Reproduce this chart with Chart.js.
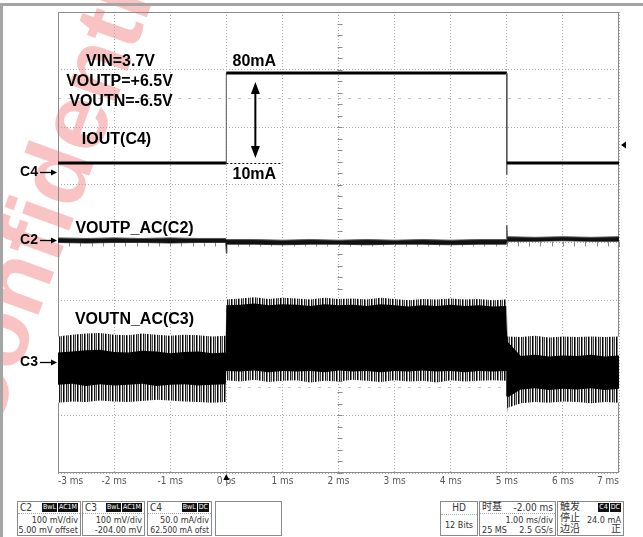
<!DOCTYPE html>
<html>
<head>
<meta charset="utf-8">
<script src="https://cdn.jsdelivr.net/npm/chart.js@4.4.1/dist/chart.umd.min.js"></script>
<style>
  body { margin: 0; background: #fff; width: 643px; height: 537px; overflow: hidden; position: relative;
         font-family: "Liberation Sans Narrow", "DejaVu Sans Condensed", sans-serif; }
  #scope { position: absolute; left: 0; top: 0; }
  .bar-top { position: absolute; left: 0; top: 3px; width: 643px; height: 3px; background: #a5a5a5; }
  .bar-left { position: absolute; left: 0; top: 3px; width: 3px; height: 534px; background: #a5a5a5; }
  .box { position: absolute; top: 501px; height: 35px; border: 1px solid #8a8a8a; box-sizing: border-box;
         font-size: 9px; line-height: 10px; color: #333; background: #fff; white-space: nowrap; }
  .box .l { position: absolute; left: 2px; }
  .box .r { position: absolute; right: 2px; }
  .hdr { position: absolute; left: 0; right: 0; top: 0; height: 11px; border-bottom: 1px dotted #aaa; font-size: 10px; line-height: 11px; }
  .tag { display: inline-block; background: #111; color: #fff; font-size: 7px; line-height: 9px; padding: 0 1px; margin-left: 1px; vertical-align: top; margin-top: 1px; }
  .cjk { font-family: "Noto Sans CJK SC", sans-serif; font-size: 10px; }
</style>
</head>
<body>
<canvas id="scope" width="643" height="495"></canvas>
<div class="bar-top"></div>
<div class="bar-left"></div>

<div class="box" style="left:17px;width:64px">
  <div class="hdr"><span class="l">C2</span><span class="r"><span class="tag">BwL</span><span class="tag">AC1M</span></span></div>
  <span class="r" style="top:13px">100 mV/div</span>
  <span class="r" style="top:23px">5.00 mV offset</span>
</div>
<div class="box" style="left:82px;width:63px">
  <div class="hdr"><span class="l">C3</span><span class="r"><span class="tag">BwL</span><span class="tag">AC1M</span></span></div>
  <span class="r" style="top:13px">100 mV/div</span>
  <span class="r" style="top:23px">-204.00 mV</span>
</div>
<div class="box" style="left:147px;width:65px">
  <div class="hdr"><span class="l">C4</span><span class="r"><span class="tag">BwL</span><span class="tag">DC</span></span></div>
  <span class="r" style="top:13px">50.0 mA/div</span>
  <span class="r" style="top:23px;font-size:8.5px">62.500 mA ofst</span>
</div>
<div class="box" style="left:215px;width:67px"></div>

<div class="box" style="left:440px;width:38px">
  <div style="position:absolute;left:0;right:0;top:1px;text-align:center;font-size:10px">HD</div>
  <div style="position:absolute;left:0;right:0;top:12px;border-top:1px dotted #7fcf7f"></div>
  <div style="position:absolute;left:0;right:0;top:18px;text-align:center">12 Bits</div>
</div>
<div class="box" style="left:479px;width:77px">
  <div class="hdr"><span class="l cjk" style="top:-2px">时基</span><span class="r">-2.00 ms</span></div>
  <span class="r" style="top:13px">1.00 ms/div</span>
  <span class="l" style="top:23px">25 MS</span>
  <span class="r" style="top:23px">2.5 GS/s</span>
</div>
<div class="box" style="left:557px;width:67px">
  <div class="hdr" style="border-bottom:none"><span class="l cjk" style="top:-2px">触发</span><span class="r"><span class="tag">C4</span><span class="tag">DC</span></span></div>
  <span class="l cjk" style="top:10px">停止</span>
  <span class="r" style="top:13px">24.0 mA</span>
  <span class="l cjk" style="top:21px">边沿</span>
  <span class="r cjk" style="top:21px">正</span>
</div>

<script>
// IOUT on C4 (mA): load step 10 mA -> 80 mA at 0 ms, back at 5 ms
const c4Time = [-3, 0, 0, 5, 5, 5, 7];
const c4Current = [10, 10, 80, 80, 1, 10, 10];

// VOUTP ripple on C2 (mV), upper / lower envelope
const c2Time = [-3, -2.5, -2, -1.5, -1, -0.5, -0.01, 0, 0.01, 0.5, 1, 1.5, 2, 2.5, 3, 3.5, 4, 4.5, 4.99, 5, 5.01, 5.5, 6, 6.5, 7];
const c2High = [4, 3, 4, 3, 4, 3, 3, 1, 1, 1, 0, 1, 0, 1, 0, 1, 0, 1, 1, 26, 6, 5, 6, 5, 6];
const c2Low = [-4, -5, -4, -4, -5, -4, -4, -23, -7, -7, -8, -7, -7, -8, -7, -7, -8, -7, -7, -3, -2, -2, -1, -2, -2];

// VOUTN ripple on C3 (mV): peak envelope and dense core
const c3Time = [-3, -2.75, -2.5, -2.25, -2, -1.75, -1.5, -1.25, -1, -0.75, -0.5, -0.25, -0.01,
  0, 0.25, 0.5, 0.75, 1, 1.25, 1.5, 1.75, 2, 2.25, 2.5, 2.75, 3, 3.25, 3.5, 3.75, 4, 4.25, 4.5, 4.75, 4.99,
  5, 5.01, 5.25, 5.5, 5.75, 6, 6.25, 6.5, 6.75, 7];
const c3PeakHigh = [44, 47, 49, 50, 47, 46, 49, 47, 45, 47, 46, 44, 45,
  108, 110, 112, 109, 111, 110, 108, 111, 109, 110, 108, 111, 109, 107, 109, 108, 110, 108, 109, 107, 108,
  112, 44, 43, 45, 42, 44, 43, 44, 43, 44];
const c3CoreHigh = [16, 18, 20, 21, 17, 16, 19, 18, 15, 17, 18, 15, 16,
  98, 99, 101, 98, 100, 99, 97, 100, 98, 99, 97, 100, 98, 96, 98, 97, 99, 97, 98, 96, 97,
  60, 35, 10, 12, 9, 11, 10, 12, 9, 11];
const c3CoreLow = [-40, -38, -42, -39, -41, -40, -38, -42, -40, -39, -41, -40, -39,
  -16, -17, -15, -18, -16, -17, -16, -18, -15, -17, -16, -18, -16, -17, -15, -17, -16, -18, -16, -17, -16,
  -60, -62, -48, -46, -49, -47, -48, -46, -49, -47];
const c3PeakLow = [-71, -69, -70, -67, -69, -70, -68, -66, -67, -69, -70, -71, -70,
  -32, -34, -31, -35, -33, -32, -36, -33, -34, -31, -33, -35, -32, -34, -33, -36, -32, -34, -33, -32, -33,
  -97, -80, -72, -70, -71, -69, -70, -72, -70, -71];

// x tick labels
const timeTicks = [-3, -2, -1, 0, 1, 2, 3, 4, 5, 6, 7];
const triggerLevel = 24.0; // mA

const pts = (xs, ys) => xs.map((x, i) => ({ x: x, y: ys[i] }));

const canvas = document.getElementById('scope');
const ctx0 = canvas.getContext('2d');

// vertical stripe texture for the ripple fringes
const tile = document.createElement('canvas');
tile.width = 7; tile.height = 1;
const tg = tile.getContext('2d');
['#000', '#7a7a7a', '#fff', '#1a1a1a', '#b0b0b0', '#444', '#fff'].forEach(function (c, i) {
  tg.fillStyle = c; tg.fillRect(i, 0, 1, 1);
});
const stripes = ctx0.createPattern(tile, 'repeat');

const band = (data, axis, extra) => Object.assign({
  data: data, yAxisID: axis, pointRadius: 0, borderWidth: 0, tension: 0, fill: false
}, extra);

const gridFont = '"Liberation Sans Narrow", "DejaVu Sans Condensed", sans-serif';
const noteFont = '"Liberation Sans", Arial, sans-serif';

function head(ctx, x, y, dx, dy, len, half) {
  // filled arrow head with tip at (x, y) pointing along (dx, dy)
  ctx.beginPath();
  ctx.moveTo(x, y);
  ctx.lineTo(x - dx * len - dy * half, y - dy * len - dx * half);
  ctx.lineTo(x - dx * len + dy * half, y - dy * len + dx * half);
  ctx.closePath();
  ctx.fill();
}

const scopeOverlay = {
  id: 'scopeOverlay',
  beforeDraw(chart) {
    const ctx = chart.ctx;
    ctx.save();
    ctx.translate(-7, 440);
    ctx.rotate(-70 * Math.PI / 180);
    ctx.font = 'bold 95px ' + noteFont;
    ctx.fillStyle = 'rgba(236, 40, 40, 0.28)';
    ctx.fillText('Confidential', 0, 0);
    ctx.restore();
  },
  beforeDatasetsDraw(chart) {
    const ctx = chart.ctx, a = chart.chartArea;
    const x = chart.scales.x, d = chart.scales.div;
    ctx.save();
    // faint cursor lines
    ctx.strokeStyle = '#c4c4c4';
    ctx.lineWidth = 1;
    ctx.setLineDash([3, 7]);
    [2.5, -2.5].forEach(function (v) {
      const y = Math.round(d.getPixelForValue(v)) + 0.5;
      ctx.beginPath(); ctx.moveTo(a.left, y); ctx.lineTo(a.right, y); ctx.stroke();
    });
    ctx.setLineDash([]);
    // minor ticks on the centre cross
    ctx.strokeStyle = '#8a8a8a';
    const cx = Math.round(x.getPixelForValue(2)) + 0.5;
    const cy = Math.round(d.getPixelForValue(0)) + 0.5;
    ctx.beginPath();
    for (let i = -20; i <= 20; i++) {
      const y = Math.round(d.getPixelForValue(i / 5)) + 0.5;
      ctx.moveTo(cx - 2, y); ctx.lineTo(cx + 3, y);
    }
    for (let i = -15; i <= 35; i++) {
      const xx = Math.round(x.getPixelForValue(i / 5)) + 0.5;
      ctx.moveTo(xx, cy - 2); ctx.lineTo(xx, cy + 3);
    }
    ctx.stroke();
    // screen frame
    ctx.strokeStyle = '#8c8c8c';
    ctx.strokeRect(a.left + 0.5, a.top + 0.5, a.right - a.left - 1, a.bottom - a.top - 1);
    ctx.restore();
  },
  afterDatasetsDraw(chart) {
    const ctx = chart.ctx, a = chart.chartArea;
    const x = chart.scales.x, c2 = chart.scales.c2, c3 = chart.scales.c3, c4 = chart.scales.c4;
    ctx.save();
    ctx.fillStyle = '#000';
    ctx.strokeStyle = '#000';
    ctx.font = 'bold 16px ' + noteFont;
    ctx.textAlign = 'center';
    ctx.textBaseline = 'middle';
    ctx.fillText('VIN=3.7V', 120.5, 62);
    ctx.fillText('VOUTP=+6.5V', 119.5, 82);
    ctx.fillText('VOUTN=-6.5V', 121, 102);
    ctx.fillText('IOUT(C4)', 116.5, 140);

    const hi = c4.getPixelForValue(80), lo = c4.getPixelForValue(10);
    const ax = x.getPixelForValue(0.5);
    ctx.fillText('80mA', ax, hi - 11);
    ctx.fillText('10mA', ax, lo + 11);
    ctx.fillText('VOUTP_AC(C2)', 134.5, c2.getPixelForValue(0) - 12);
    ctx.fillText('VOUTN_AC(C3)', 134.5, c3.getPixelForValue(0) - 42);

    // load step arrow
    ctx.lineWidth = 2;
    ctx.beginPath(); ctx.moveTo(ax + 1, hi + 18); ctx.lineTo(ax + 1, lo - 16); ctx.stroke();
    head(ctx, ax + 1, hi + 9, 0, -1, 12, 4.5);
    head(ctx, ax + 1, lo - 5, 0, 1, 12, 4.5);

    // 10 mA reference
    ctx.lineWidth = 1;
    ctx.setLineDash([2, 2]);
    const ly = Math.round(lo) + 0.5;
    ctx.beginPath(); ctx.moveTo(x.getPixelForValue(0), ly); ctx.lineTo(x.getPixelForValue(1), ly); ctx.stroke();
    ctx.setLineDash([]);

    // channel markers
    ctx.font = 'bold 14px ' + noteFont;
    ctx.textAlign = 'right';
    [['C4', lo + 9], ['C2', c2.getPixelForValue(0)], ['C3', c3.getPixelForValue(0)]].forEach(function (m) {
      const y = Math.round(m[1]) + 0.5;
      ctx.fillText(m[0], 38, y);
      ctx.lineWidth = 1.3;
      ctx.beginPath(); ctx.moveTo(40, y); ctx.lineTo(53, y); ctx.stroke();
      head(ctx, 57, y, 1, 0, 6, 3);
    });

    // trigger level and trigger position
    const ty = c4.getPixelForValue(triggerLevel);
    head(ctx, a.right + 2, ty, -1, 0, 5, 3.5);
    head(ctx, x.getPixelForValue(0), a.bottom + 1, 0, -1, 6, 3);
    ctx.restore();
  }
};

new Chart(canvas, {
  type: 'line',
  data: {
    datasets: [
      band(pts(c2Time, c2High), 'c2', { fill: '+1', backgroundColor: '#111', borderWidth: 1, borderColor: '#555' }),
      band(pts(c2Time, c2Low), 'c2', { borderWidth: 1, borderColor: '#555' }),
      band(pts(c3Time, c3CoreHigh), 'c3', { fill: '+1', backgroundColor: '#000' }),
      band(pts(c3Time, c3CoreLow), 'c3'),
      band(pts(c3Time, c3PeakHigh), 'c3', { fill: '+1', backgroundColor: stripes }),
      band(pts(c3Time, c3PeakLow), 'c3'),
      {
        data: pts(c4Time, c4Current),
        yAxisID: 'c4',
        pointRadius: 0,
        tension: 0,
        borderColor: '#000',
        borderWidth: 3,
        segment: {
          borderWidth: s => s.p0.parsed.x === s.p1.parsed.x ? 1 : 3,
          borderColor: s => s.p0.parsed.x === s.p1.parsed.x ? '#555' : '#000'
        }
      }
    ]
  },
  options: {
    responsive: false,
    animation: false,
    events: [],
    layout: { padding: { left: 58, right: 24, top: 12, bottom: 0 } },
    plugins: { legend: { display: false }, tooltip: { enabled: false } },
    scales: {
      x: {
        type: 'linear',
        min: -3,
        max: 7,
        afterBuildTicks: s => { s.ticks = timeTicks.map(v => ({ value: v })); },
        afterFit: s => { s.height = 22; },
        grid: { color: '#a8a8a8', drawTicks: false },
        border: { display: false, dash: [1, 2] },
        ticks: {
          align: 'inner',
          padding: 2,
          color: '#555',
          font: { family: gridFont, size: 10 },
          callback: v => v === 0 ? '0 ps' : v + ' ms'
        }
      },
      div: {
        type: 'linear',
        position: 'left',
        min: -4,
        max: 4,
        ticks: { display: false, stepSize: 1 },
        afterFit: s => { s.width = 0; },
        grid: { color: '#a8a8a8', drawTicks: false },
        border: { display: false, dash: [1, 2] }
      },
      c2: { type: 'linear', display: false, min: -404, max: 396 },
      c3: { type: 'linear', display: false, min: -193, max: 607 },
      c4: { type: 'linear', display: false, min: -231, max: 127.5 }
    }
  },
  plugins: [scopeOverlay]
});
</script>
</body>
</html>
